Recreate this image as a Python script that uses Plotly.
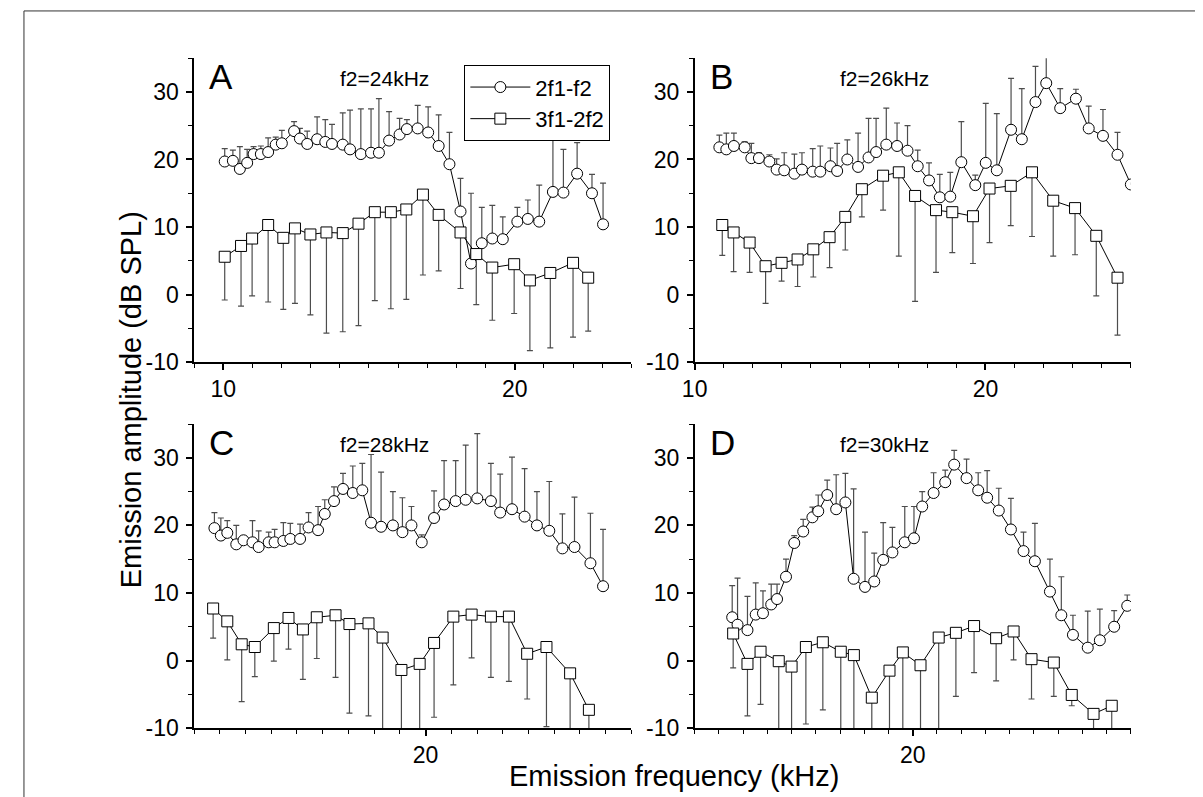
import plotly.graph_objects as go

W, H = 1203, 797

# ---- data: emission frequency (kHz), amplitude (dB SPL), error (dB) ----
# panel A, f2 = 24 kHz
a_dp_x = [10.05, 10.33, 10.57, 10.82, 11.04, 11.29, 11.54, 11.80, 12.01, 12.43, 12.63, 12.88, 13.22, 13.50,
          13.73, 14.10, 14.35, 14.72, 15.07, 15.34, 15.69, 16.05, 16.30, 16.67, 17.03, 17.39, 17.76, 18.14,
          18.50, 18.87, 19.23, 19.59, 20.09, 20.45, 20.84, 21.31, 21.67, 22.14, 22.65, 23.03]
a_dp_y = [19.7, 19.8, 18.6, 19.5, 20.8, 20.8, 21.1, 22.2, 22.4, 24.2, 23.1, 22.3, 23.0, 22.6,
          22.3, 22.2, 21.5, 20.8, 21.0, 21.0, 22.8, 23.7, 24.5, 24.6, 24.0, 22.0, 19.3, 12.3,
          4.6, 7.6, 8.3, 8.2, 10.8, 11.2, 10.8, 15.2, 15.1, 17.9, 15.0, 10.4]
a_dp_err = [1.9, 1.6, 3.3, 2.0, 1.1, 1.2, 2.1, 1.1, 1.9, 1.4, 1.5, 1.9, 3.3, 3.3,
            2.9, 4.7, 5.8, 6.7, 6.5, 8.0, 4.3, 2.4, 1.4, 3.4, 3.8, 4.6, 4.7, 4.9,
            10.4, 5.3, 4.9, 3.3, 2.1, 2.8, 5.4, 8.2, 6.4, 4.6, 2.8, 6.1]
a_tp_x = [10.05, 10.61, 10.99, 11.54, 12.06, 12.46, 12.99, 13.54, 14.10, 14.64, 15.20, 15.75,
          16.28, 16.85, 17.39, 18.14, 18.68, 19.23, 19.98, 20.52, 21.22, 22.00, 22.52]
a_tp_y = [5.6, 7.2, 8.3, 10.3, 8.4, 9.8, 8.9, 9.2, 9.1, 10.5, 12.2, 12.2,
          12.6, 14.8, 11.8, 9.2, 6.0, 4.0, 4.5, 2.1, 3.2, 4.7, 2.5]
a_tp_err = [6.4, 8.9, 8.5, 11.4, 10.6, 11.1, 11.9, 14.9, 14.6, 15.1, 13.1, 14.3,
            13.3, 11.9, 8.3, 8.3, 7.5, 7.8, 7.3, 10.4, 11.1, 11.0, 7.9]

# panel B, f2 = 26 kHz
b_dp_x = [10.85, 11.09, 11.35, 11.72, 11.95, 12.21, 12.57, 12.82, 13.08, 13.43, 13.69, 14.06, 14.32,
          14.67, 14.90, 15.25, 15.62, 15.98, 16.24, 16.59, 16.96, 17.32, 17.67, 18.06, 18.43, 18.79,
          19.17, 19.65, 20.01, 20.39, 20.88, 21.25, 21.72, 22.09, 22.57, 23.11, 23.55, 24.04, 24.54, 25.0]
b_dp_y = [21.8, 21.5, 22.0, 21.8, 20.2, 20.2, 19.7, 18.5, 18.4, 17.9, 18.5, 18.2, 18.2,
          19.0, 18.3, 20.0, 18.9, 20.3, 21.1, 22.2, 22.0, 21.3, 19.0, 16.9, 14.4, 14.5,
          19.6, 16.2, 19.5, 18.4, 24.4, 23.0, 28.5, 31.3, 27.6, 29.0, 24.6, 23.5, 20.7, 16.3]
b_dp_err = [1.8, 2.4, 1.9, 0.8, 2.2, 0.8, 1.0, 1.6, 2.6, 2.9, 2.5, 3.4, 3.8,
            2.7, 4.1, 2.9, 5.0, 5.8, 5.0, 5.4, 3.4, 3.7, 2.4, 2.6, 3.4, 3.6,
            6.0, 1.5, 8.8, 8.4, 7.6, 7.5, 5.3, 5.0, 2.9, 1.4, 3.3, 3.9, 3.3, 0.0]
b_tp_x = [10.95, 11.34, 11.89, 12.44, 12.99, 13.54, 14.08, 14.64, 15.18, 15.75, 16.48, 17.02,
          17.58, 18.30, 18.86, 19.57, 20.14, 20.87, 21.60, 22.33, 23.08, 23.81, 24.54]
b_tp_y = [10.3, 9.2, 7.7, 4.2, 4.7, 5.2, 6.7, 8.5, 11.5, 15.6, 17.6, 18.1,
          14.6, 12.5, 12.2, 11.6, 15.7, 16.1, 18.1, 13.9, 12.8, 8.7, 2.5]
b_tp_err = [4.5, 5.8, 4.4, 5.5, 2.7, 4.0, 4.1, 4.5, 4.9, 4.1, 5.1, 12.4,
            15.6, 9.2, 6.0, 7.0, 8.0, 5.9, 9.5, 8.2, 6.9, 8.9, 8.5]

# panel C, f2 = 28 kHz
c_dp_x = [11.79, 12.04, 12.29, 12.64, 12.92, 13.27, 13.51, 13.90, 14.13, 14.47, 14.74, 15.12, 15.45,
          15.82, 16.08, 16.44, 16.79, 17.17, 17.54, 17.88, 18.27, 18.73, 19.10, 19.45, 19.85, 20.33,
          20.72, 21.17, 21.56, 22.01, 22.54, 22.90, 23.36, 23.85, 24.33, 24.81, 25.32, 25.79, 26.41, 26.90]
c_dp_y = [19.6, 18.5, 18.9, 17.2, 17.8, 17.5, 16.8, 17.5, 17.5, 17.7, 18.0, 18.0, 19.7,
          19.3, 21.7, 23.6, 25.4, 24.8, 25.2, 20.4, 19.8, 20.0, 19.0, 20.0, 17.5, 21.1,
          23.1, 23.6, 23.8, 24.0, 23.6, 21.9, 22.4, 21.3, 20.0, 19.2, 16.6, 16.8, 14.4, 11.0]
c_dp_err = [2.3, 2.6, 1.8, 2.8, 0.6, 3.2, 2.4, 1.5, 1.9, 2.7, 2.3, 2.2, 2.2,
            3.5, 2.1, 2.1, 2.3, 4.0, 4.0, 10.1, 8.1, 5.0, 5.1, 2.8, 1.1, 4.0,
            6.5, 6.0, 8.1, 9.6, 5.6, 5.7, 7.7, 7.1, 5.0, 7.3, 5.1, 7.4, 7.4, 8.4]
c_tp_x = [11.74, 12.29, 12.85, 13.36, 14.10, 14.67, 15.23, 15.77, 16.50, 17.04, 17.78, 18.33,
          19.06, 19.77, 20.33, 21.08, 21.79, 22.54, 23.24, 23.95, 24.70, 25.62, 26.35]
c_tp_y = [7.7, 5.8, 2.4, 2.0, 4.8, 6.3, 4.6, 6.4, 6.7, 5.4, 5.5, 3.4,
          -1.4, -0.5, 2.6, 6.5, 6.8, 6.5, 6.5, 1.0, 2.0, -1.9, -7.3]
c_tp_err = [4.4, 5.7, 8.5, 4.4, 4.9, 4.6, 7.4, 6.1, 9.2, 13.2, 13.7, 15.0,
            12.0, 12.0, 11.0, 10.1, 6.4, 9.0, 9.6, 6.7, 11.8, 10.0, 5.0]

# panel D, f2 = 30 kHz
d_dp_x = [12.55, 12.77, 13.18, 13.52, 13.82, 14.16, 14.40, 14.77, 15.11, 15.48, 15.86, 16.10, 16.47,
          16.84, 17.22, 17.56, 18.03, 18.41, 18.78, 19.16, 19.67, 20.05, 20.39, 20.86, 21.34, 21.71,
          22.22, 22.70, 23.07, 23.55, 24.05, 24.57, 25.04, 25.66, 26.13, 26.61, 27.22, 27.72, 28.31, 28.85]
d_dp_y = [6.4, 5.3, 4.5, 6.8, 7.0, 8.3, 9.1, 12.4, 17.4, 19.1, 21.2, 22.1, 24.5,
          22.4, 23.4, 12.1, 10.9, 11.7, 14.9, 16.0, 17.5, 18.1, 22.8, 24.8, 26.4, 29.0,
          27.0, 25.2, 24.1, 22.2, 19.4, 16.2, 14.7, 10.2, 6.7, 3.8, 1.9, 3.0, 5.0, 8.1]
d_dp_err = [4.7, 6.9, 5.0, 4.7, 3.3, 3.0, 2.2, 2.6, 1.1, 1.8, 1.5, 2.4, 2.2,
            5.1, 4.3, 13.3, 8.1, 4.2, 5.5, 3.7, 5.3, 4.7, 2.2, 3.0, 1.8, 2.1,
            2.8, 2.6, 4.0, 3.3, 4.6, 2.8, 5.6, 4.8, 5.7, 2.9, 5.4, 4.6, 2.4, 1.6]
d_tp_x = [12.59, 13.18, 13.72, 14.47, 15.00, 15.59, 16.29, 17.03, 17.57, 18.31, 19.04, 19.59,
          20.32, 21.07, 21.78, 22.53, 23.44, 24.16, 24.90, 25.82, 26.56, 27.46, 28.21]
d_tp_y = [4.0, -0.5, 1.3, -0.1, -0.9, 2.0, 2.7, 1.3, 0.8, -5.5, -1.5, 1.2,
          -0.7, 3.4, 4.1, 5.1, 3.3, 4.3, 0.2, -0.3, -5.1, -7.9, -6.7]
d_tp_err = [5.1, 7.7, 7.8, 12.0, 12.0, 11.4, 10.0, 13.0, 13.0, 6.0, 10.0, 13.0,
            11.0, 15.0, 9.4, 6.9, 6.3, 4.2, 5.9, 5.0, 1.6, 3.0, 5.0]

panel_letters = ["A", "B", "C", "D"]
panel_titles = ["f2=24kHz", "f2=26kHz", "f2=28kHz", "f2=30kHz"]
x_ranges = [[9, 24], [10, 25], [11, 28], [11, 29]]
x_ticks = [[10, 20], [10, 20], [20], [20]]
y_ticks = [-10, 0, 10, 20, 30]
y_ticktext = ["-10", "0", "10", "20", "30"]

FONT = "Liberation Sans, Arial, Helvetica, sans-serif"
ERR_COL = "#4d4d4d"


def px(x):
    return x / W


def py(y):
    return 1 - y / H


# pixel boxes of the four plot areas: (left, right, top, bottom)
boxes = [(175, 617, 51, 360), (681, 1122, 51, 360),
         (175, 617, 423, 732), (681, 1122, 423, 732)]

panels = [
    (a_dp_x, a_dp_y, a_dp_err, a_tp_x, a_tp_y, a_tp_err),
    (b_dp_x, b_dp_y, b_dp_err, b_tp_x, b_tp_y, b_tp_err),
    (c_dp_x, c_dp_y, c_dp_err, c_tp_x, c_tp_y, c_tp_err),
    (d_dp_x, d_dp_y, d_dp_err, d_tp_x, d_tp_y, d_tp_err),
]

fig = go.Figure()

for i, (dx, dy, de, tx, ty, te) in enumerate(panels):
    sfx = "" if i == 0 else str(i + 1)
    fig.add_trace(go.Scatter(
        x=dx, y=dy, mode="lines+markers", name="2f1-f2",
        xaxis="x" + sfx, yaxis="y" + sfx, showlegend=(i == 0),
        line=dict(color="black", width=1),
        marker=dict(symbol="circle", size=11, color="white",
                    line=dict(color="black", width=1)),
        error_y=dict(type="data", symmetric=False, array=de,
                     arrayminus=[0] * len(de), color=ERR_COL,
                     thickness=1.2, width=3),
    ))
    fig.add_trace(go.Scatter(
        x=tx, y=ty, mode="lines+markers", name="3f1-2f2",
        xaxis="x" + sfx, yaxis="y" + sfx, showlegend=(i == 0),
        line=dict(color="black", width=1),
        marker=dict(symbol="square", size=11, color="white",
                    line=dict(color="black", width=1)),
        error_y=dict(type="data", symmetric=False, array=[0] * len(te),
                     arrayminus=te, color=ERR_COL,
                     thickness=1.2, width=3),
    ))

axis_common = dict(showgrid=False, zeroline=False, showline=True,
                   linecolor="black", linewidth=1.5, ticks="outside",
                   ticklen=6, tickwidth=1.5, tickcolor="black",
                   tickfont=dict(family=FONT, size=23, color="black"))

layout = {}
annotations = []
for i, (l, r, t, b) in enumerate(boxes):
    sfx = "" if i == 0 else str(i + 1)
    layout["xaxis" + sfx] = dict(
        axis_common, domain=[px(l), px(r)], range=x_ranges[i],
        anchor="y" + sfx, tickmode="array", tickvals=x_ticks[i],
        ticktext=[str(v) for v in x_ticks[i]],
        minor=dict(tickmode="linear", tick0=0, dtick=1, ticks="outside",
                   ticklen=4, tickwidth=1.2, tickcolor="black"))
    layout["yaxis" + sfx] = dict(
        axis_common, domain=[py(b), py(t)], range=[-10, 35],
        anchor="x" + sfx, tickmode="array", tickvals=y_ticks,
        ticktext=y_ticktext, ticklabelstandoff=3,
        minor=dict(tickmode="linear", tick0=-10, dtick=5, ticks="outside",
                   ticklen=4, tickwidth=1.2, tickcolor="black"))
    annotations.append(dict(
        text=panel_letters[i], x=px(l + 13), y=py(t + 19), xref="paper", yref="paper",
        xanchor="left", yanchor="middle", showarrow=False,
        font=dict(family=FONT, size=35, color="black")))
    annotations.append(dict(
        text=panel_titles[i], x=px(l + 192), y=py(t + 21), xref="paper", yref="paper",
        xanchor="center", yanchor="middle", showarrow=False,
        font=dict(family=FONT, size=21, color="black")))

annotations.append(dict(
    text="Emission frequency (kHz)", x=px(660), y=py(781), xref="paper", yref="paper",
    xanchor="center", yanchor="middle", showarrow=False,
    font=dict(family=FONT, size=29, color="black")))
annotations.append(dict(
    text="Emission amplitude (dB SPL)", x=px(111), y=py(398), xref="paper", yref="paper",
    xanchor="center", yanchor="middle", textangle=-90, showarrow=False,
    font=dict(family=FONT, size=29, color="black")))

fig.update_layout(
    width=W, height=H,
    margin=dict(l=0, r=0, t=0, b=0),
    paper_bgcolor="white", plot_bgcolor="white",
    font=dict(family=FONT, color="black"),
    annotations=annotations,
    legend=dict(x=px(448), y=py(58), xanchor="left", yanchor="top",
                bgcolor="white", bordercolor="black", borderwidth=1.2,
                font=dict(family=FONT, size=22, color="black"),
                itemwidth=60, tracegroupgap=0),
    shapes=[dict(type="rect", xref="paper", yref="paper",
                 x0=px(3), x1=px(1198), y0=-0.02, y1=py(3),
                 line=dict(color="#333333", width=1))],
    **layout,
)

fig.write_html("out.html")
